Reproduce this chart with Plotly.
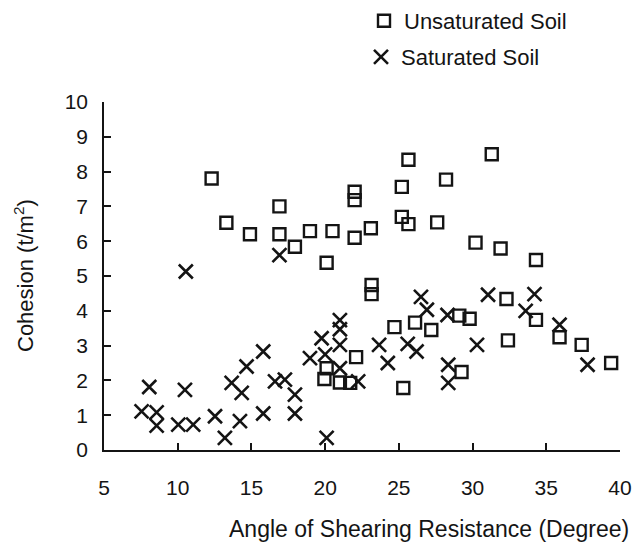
import plotly.graph_objects as go

# Unsaturated soil (squares)
unsat_phi = [12.3, 13.3, 14.9, 16.9, 16.9, 17.95, 18.97, 20.1, 20.5, 22.0, 22.0, 22.0, 23.1,
             23.15, 23.15, 25.2, 25.65, 25.2, 25.65, 27.6, 28.2, 31.3, 30.2, 31.9, 34.3,
             19.95, 20.1, 21.0, 21.7, 22.1, 24.7, 25.3, 26.1, 27.2, 29.1, 29.8, 29.25,
             32.3, 32.4, 34.3, 35.9, 37.4, 39.4]
unsat_c = [7.8, 6.53, 6.2, 7.0, 6.2, 5.84, 6.29, 5.38, 6.29, 7.42, 7.18, 6.1, 6.37,
           4.74, 4.48, 7.56, 8.34, 6.7, 6.49, 6.54, 7.77, 8.5, 5.96, 5.79, 5.46,
           2.04, 2.35, 1.94, 1.93, 2.67, 3.53, 1.78, 3.66, 3.45, 3.86, 3.77, 2.24,
           4.34, 3.15, 3.74, 3.24, 3.02, 2.5]

# Saturated soil (crosses)
sat_phi = [10.55, 16.9, 8.07, 7.55, 8.57, 8.57, 10.04, 11.05, 10.49, 12.53, 13.2, 13.66,
           14.34, 14.22, 14.67, 15.8, 15.8, 16.6, 17.27, 17.95, 17.95, 18.97, 19.76, 20.0,
           20.1, 21.0, 21.0, 21.0, 21.0, 22.24, 23.66, 24.25, 25.6, 26.2, 26.5, 26.9,
           28.3, 28.35, 28.35, 30.3, 31.05, 33.6, 34.2, 35.9, 37.8]
sat_c = [5.13, 5.6, 1.81, 1.11, 1.08, 0.70, 0.73, 0.73, 1.73, 0.97, 0.35, 1.93,
         1.64, 0.83, 2.4, 2.83, 1.05, 1.97, 2.02, 1.59, 1.05, 2.64, 3.21, 2.75,
         0.35, 3.73, 3.47, 3.02, 2.35, 1.97, 3.02, 2.5, 3.05, 2.83, 4.4, 4.03,
         3.88, 2.45, 1.93, 3.02, 4.46, 4.0, 4.48, 3.6, 2.45]

x_ticks = [5, 10, 15, 20, 25, 30, 35, 40]
y_ticks = list(range(0, 11))

W, H = 638, 547
L, R, T, B = 104, 18, 102, 97
FONT = "Liberation Sans, Arial, Helvetica, sans-serif"
INK = "#141414"

fig = go.Figure()
fig.add_trace(go.Scatter(
    x=unsat_phi, y=unsat_c, mode="markers", name="Unsaturated Soil", showlegend=True,
    marker=dict(symbol="square-open", size=12, color=INK, line=dict(width=2.4, color=INK)),
    legend="legend",
))
fig.add_trace(go.Scatter(
    x=sat_phi, y=sat_c, mode="markers", name="Saturated Soil", showlegend=True,
    marker=dict(symbol="x-thin-open", size=14, color=INK, line=dict(width=2.6, color=INK)),
    legend="legend2",
))

axis_common = dict(
    showgrid=False, zeroline=False, showline=True, linecolor=INK, linewidth=1.6,
    ticks="inside", ticklen=7, tickwidth=1.6, tickcolor=INK,
    tickfont=dict(family=FONT, size=21, color=INK),
)

pw = W - L - R
ph = H - T - B

fig.update_layout(
    width=W, height=H, showlegend=True,
    margin=dict(l=L, r=R, t=T, b=B, autoexpand=False),
    paper_bgcolor="white", plot_bgcolor="white",
    font=dict(family=FONT, size=21, color=INK),
    xaxis=dict(range=[5, 40], tickvals=x_ticks, ticktext=[str(v) for v in x_ticks],
               ticklabelstandoff=18, **axis_common),
    yaxis=dict(range=[0, 10], tickvals=y_ticks, ticktext=[str(v) for v in y_ticks],
               ticklabelstandoff=10, **axis_common),
    legend=dict(xref="container", yref="container", x=364 / W, y=1 - 21 / H,
                xanchor="left", yanchor="middle", bgcolor="rgba(0,0,0,0)",
                font=dict(family=FONT, size=22, color=INK)),
    legend2=dict(xref="container", yref="container", x=361 / W, y=1 - 57 / H,
                 xanchor="left", yanchor="middle", bgcolor="rgba(0,0,0,0)",
                 font=dict(family=FONT, size=22, color=INK)),
    annotations=[
        dict(text="Angle of Shearing Resistance (Degree)", xref="paper", yref="paper",
             x=(429 - L) / pw, y=-(529 - (H - B)) / ph, xanchor="center", yanchor="middle",
             showarrow=False, font=dict(family=FONT, size=23, color=INK)),
        dict(text="Cohesion (t/m<sup>2</sup>)", xref="paper", yref="paper",
             x=(24 - L) / pw, y=0.5, xanchor="center", yanchor="middle", textangle=-90,
             showarrow=False, font=dict(family=FONT, size=22, color=INK)),
    ],
)

fig.write_html("out.html", config={"displayModeBar": False},
               post_script="document.body.style.margin='0';")
